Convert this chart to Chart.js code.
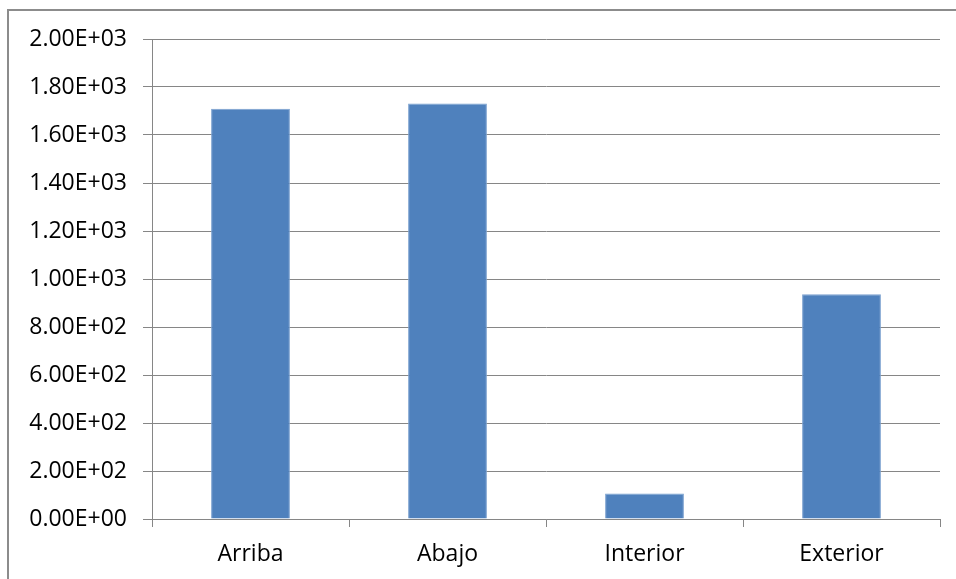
<!DOCTYPE html>
<html>
<head>
<meta charset="utf-8">
<script src="https://cdn.jsdelivr.net/npm/chart.js@4/dist/chart.umd.min.js"></script>
<style>
    body { margin: 0; background: #fff; overflow: hidden; }
    #marco { position: absolute; left: 7px; top: 9px; width: 1000px; height: 700px; border: 2px solid #8c8c8c; }
    #wrap { position: absolute; left: 0; top: 0; width: 956px; height: 579px; }
</style>
</head>
<body>
<div id="marco"></div>
<div id="wrap"><canvas id="myChart" width="956" height="579"></canvas></div>
<script>
// categorias y valores
var categorias = ["Arriba", "Abajo", "Interior", "Exterior"];
var valores = [1709, 1731, 106, 936];
var yMin = 0;
var yMax = 2000;
var yPaso = 200;

function formatoE(v) {
    var partes = Number(v).toExponential(2).split("e");
    var exp = partes[1];
    var signo = exp[0];
    var num = exp.slice(1);
    if (num.length < 2) num = "0" + num;
    return partes[0] + "E" + signo + num;
}

var gris = "#868686";

var data = {
    labels: categorias,
    datasets: [{
        label: "Serie 1",
        data: valores,
        backgroundColor: "#4f81bd",
        borderColor: "#7aa0cf",
        borderWidth: 1,
        barPercentage: 0.4,
        categoryPercentage: 1.0
    }]
};

var options = {
    responsive: false,
    animation: false,
    layout: {
        padding: { top: 39, right: 16, left: 0, bottom: 0 }
    },
    plugins: {
        legend: { display: false },
        tooltip: { enabled: false }
    },
    scales: {
        x: {
            offset: true,
            grid: {
                offset: true,
                drawOnChartArea: false,
                drawTicks: true,
                tickLength: 8,
                tickColor: gris,
                lineWidth: 1
            },
            border: { display: true, color: gris, width: 1 },
            ticks: {
                color: "#000",
                padding: 14,
                font: { family: "'Open Sans'", size: 23 }
            },
            afterFit: function (scale) { scale.height = 60; }
        },
        y: {
            min: yMin,
            max: yMax,
            grid: {
                color: gris,
                lineWidth: 1,
                drawTicks: true,
                tickLength: 9,
                tickColor: gris
            },
            border: { display: true, color: gris, width: 1 },
            ticks: {
                stepSize: yPaso,
                color: "#000",
                padding: 16,
                font: { family: "'Open Sans'", size: 23 },
                callback: function (v) { return formatoE(v); }
            },
            afterFit: function (scale) { scale.width = 152; }
        }
    }
};

var ctx = document.getElementById('myChart').getContext('2d');
var myChart = new Chart(ctx, {
    type: 'bar',
    data: data,
    options: options
});
</script>
</body>
</html>
